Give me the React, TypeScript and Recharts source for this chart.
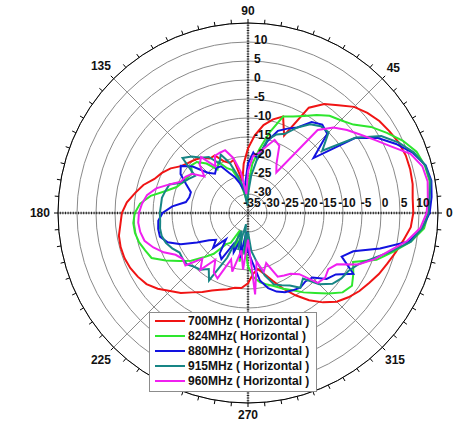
import { RadarChart, Radar, PolarGrid, PolarAngleAxis, PolarRadiusAxis, Legend } from 'recharts';

const FONT = '"Liberation Sans", Arial, sans-serif';
const CX = 248;
const CY = 213;
const R = 190;

// angle in degrees, every 5 deg, counter-clockwise from 0 (right)
const ANGLES = [
  0, 5, 10, 15, 20, 25, 30, 35, 40, 45, 50, 55,
  60, 65, 70, 75, 80, 85, 90, 95, 100, 105, 110, 115,
  120, 125, 130, 135, 140, 145, 150, 155, 160, 165, 170, 175,
  180, 185, 190, 195, 200, 205, 210, 215, 220, 225, 230, 235,
  240, 245, 250, 255, 260, 265, 270, 275, 280, 285, 290, 295,
  300, 305, 310, 315, 320, 325, 330, 335, 340, 345, 350, 355,
];

// gain in dB
const F700 = [
  8.5, 9, 9.2, 9.2, 8.8, 8, 7.2, 6, 4.5, 2, 0, -3,
  -12.5, -8, -9.5, -11.5, -14.5, -18, -22, -26.5, -20.5, -21, -20, -17.5,
  -17.5, -16, -15.2, -14.5, -13.5, -11.5, -10, -8.8, -6.5, -4.8, -3, -1.8,
  -1.3, -0.5, -0.3, -0.4, -0.8, -1.5, -2.4, -4, -6, -7.5, -9.5, -11,
  -12.5, -13.5, -14.2, -15, -15.2, -16.5, -19, -20, -18.4, -16, -13, -10,
  -7, -4.3, -2, -0.5, 0.8, 1.8, 3, 4, 5.2, 6.5, 8, 8.5,
];
const F824 = [
  12.8, 13.5, 13.2, 12.2, 10, 7.2, 4.5, 1.2, -0.5, -1.6, -3.5, -5.5,
  -7, -8, -13, -18, -22, -28, -32, -30, -26, -23, -22, -19.5,
  -21, -18, -16, -15.5, -17, -16.5, -16, -15, -12.6, -9, -6.5, -5.2,
  -4.7, -4.8, -5.3, -6.2, -7, -10, -13, -15.5, -18.5, -21, -25, -26,
  -30, -24, -29, -22, -26, -21, -18, -16.5, -15.5, -14.5, -13, -11.5,
  -9.5, -7.5, -5, -2.5, -1.6, -3, -4.5, 1, 4.5, 8.5, 11.5, 12.5,
];
const F880 = [
  13.5, 14, 13.4, 11.2, 8, 4.5, -0.5, -12.5, -5.5, -4.6, -5.8, -9,
  -10.5, -12, -15.5, -20.5, -19, -22, -27, -29, -27, -25, -23.4, -20.8,
  -20.5, -21.5, -20, -16, -13.4, -14.5, -17, -19, -19, -18.4, -15, -12.5,
  -11.3, -11, -11, -12.5, -15.5, -19.5, -22.5, -24, -22, -26, -22, -21,
  -26, -24, -28, -23, -30, -25, -22, -17, -14.5, -13, -12, -11.5,
  -11, -11.5, -11, -8, -6.8, -3, -7.8, -5.5, 1, 8, 11, 12.8,
];
const F915 = [
  13, 13.8, 13.3, 11.5, 8.8, 5.5, -0.5, -9.5, -5, -5.2, -6.5, -9,
  -12, -13, -15, -20, -25, -30, -33, -28, -25, -21, -18, -20,
  -17, -16, -14, -12.5, -18, -17, -16, -13, -12.5, -12, -12, -11.8,
  -11.8, -11.5, -11.5, -12, -13, -14.2, -14, -14, -15, -15.5, -17, -14.5,
  -22, -30, -25, -32, -24, -30, -25, -22, -18, -15, -14, -13,
  -11, -12.5, -8.5, -6, -5, -4.5, -3, 0, 4, 8.5, 11, 12.5,
];
const F960 = [
  12.5, 13, 12.5, 10.5, 6.5, 3.5, 1, -1, -3.2, -6.5, -22, -20,
  -15.5, -14.5, -17, -19, -20, -24, -30, -24, -20, -17.4, -17.5, -17.6,
  -20, -15.8, -17, -20, -17, -16, -15.5, -13, -10, -8, -7, -6.3,
  -6, -6.2, -6.8, -8.5, -10.5, -13, -14, -13.5, -18, -15.5, -20, -17,
  -16, -22, -19, -25, -20, -28, -13.5, -22, -19, -21, -16.5, -16,
  -15.5, -14, -9, -8.5, -9.2, -8, -3, 0.5, 3.5, 7.5, 10.5, 12,
];

const SERIES = [
  { key: 'f700', name: '700MHz ( Horizontal )', color: '#f01414', values: F700 },
  { key: 'f824', name: '824MHz( Horizontal )', color: '#2ee62e', values: F824 },
  { key: 'f880', name: '880MHz ( Horizontal )', color: '#1212e0', values: F880 },
  { key: 'f915', name: '915MHz ( Horizontal )', color: '#178585', values: F915 },
  { key: 'f960', name: '960MHz ( Horizontal )', color: '#f020f0', values: F960 },
];

const data = ANGLES.map((a, i) => {
  const row: Record<string, number> = { angle: a };
  SERIES.forEach((s) => {
    row[s.key] = s.values[i];
  });
  return row;
});

const textStyle = { fontFamily: FONT, fontSize: 12, fontWeight: 700, fill: '#111' };

function AngleTick(props: any) {
  const v = Number(props.payload?.value);
  if (v % 45 !== 0) return <g />;
  const label = String(v);
  const w = label.length * 6.7;
  const rad = (v * Math.PI) / 180;
  const c = Math.cos(rad);
  const s = Math.sin(rad);
  const rl = R + 8 + (Math.abs(c) * w) / 2 + Math.abs(s) * 4;
  return (
    <text x={CX + rl * c} y={CY - rl * s} textAnchor="middle" dominantBaseline="central" style={textStyle}>
      {label}
    </text>
  );
}

function RadiusTick(props: any) {
  const v = Number(props.payload?.value);
  const r = Number(props.payload?.coordinate);
  if (v >= 15) return <g />;
  return (
    <g>
      {v > -35 && (
        <text x={CX + 6} y={CY - r + 1.5} textAnchor="start" style={textStyle}>
          {v}
        </text>
      )}
      <text x={CX + r + 4} y={CY - 6} textAnchor="middle" style={textStyle}>
        {v}
      </text>
    </g>
  );
}

function LegendBox(props: any) {
  const items = props.payload || [];
  return (
    <div
      style={{
        width: 168,
        height: 80,
        boxSizing: 'border-box',
        border: '1px solid #8c8c8c',
        background: '#fff',
        padding: '1px 0 0 5px',
        fontFamily: FONT,
        fontSize: 12,
        fontWeight: 700,
        color: '#111',
      }}
    >
      {items.map((it: any) => (
        <div key={it.value} style={{ display: 'flex', alignItems: 'center', height: 14.8, whiteSpace: 'nowrap' }}>
          <span style={{ display: 'inline-block', width: 30, height: 2, background: it.color, marginRight: 3 }} />
          <span>{it.value}</span>
        </div>
      ))}
    </div>
  );
}

export default function App() {
  return (
    <div style={{ position: 'absolute', left: 0, top: 0, width: 453, height: 425, background: '#fff' }}>
      <RadarChart
        width={453}
        height={425}
        data={data}
        cx={CX}
        cy={CY}
        outerRadius={R}
        startAngle={0}
        endAngle={360}
        margin={{ top: 0, right: 0, bottom: 0, left: 0 }}
      >
        <PolarGrid gridType="circle" radialLines={false} stroke="#8a8a8a" />
        <PolarGrid gridType="circle" polarAngles={[45, 135, 225, 315]} polarRadius={[]} stroke="#8a8a8a" />
        <PolarGrid gridType="circle" polarAngles={[0, 90, 180, 270]} polarRadius={[]} stroke="#555" strokeWidth={0.8} />
        <PolarGrid
          gridType="circle"
          polarAngles={[0, 90, 180, 270]}
          polarRadius={[]}
          stroke="#222"
          strokeWidth={2.5}
          strokeDasharray="1 1.6"
        />
        <PolarAngleAxis dataKey="angle" axisLineType="circle" stroke="#000" tickSize={4} tick={AngleTick} />
        <PolarRadiusAxis
          angle={90}
          type="number"
          domain={[-35, 15]}
          tickCount={11}
          axisLine={false}
          tickLine={false}
          tick={RadiusTick}
        />
        {SERIES.map((s) => (
          <Radar
            key={s.key}
            dataKey={s.key}
            name={s.name}
            stroke={s.color}
            strokeWidth={2}
            fill="none"
            fillOpacity={0}
            dot={false}
            isAnimationActive={false}
          />
        ))}
        <Legend
          content={LegendBox}
          wrapperStyle={{ position: 'absolute', left: 149, top: 312, width: 168, height: 80 }}
        />
      </RadarChart>
    </div>
  );
}
